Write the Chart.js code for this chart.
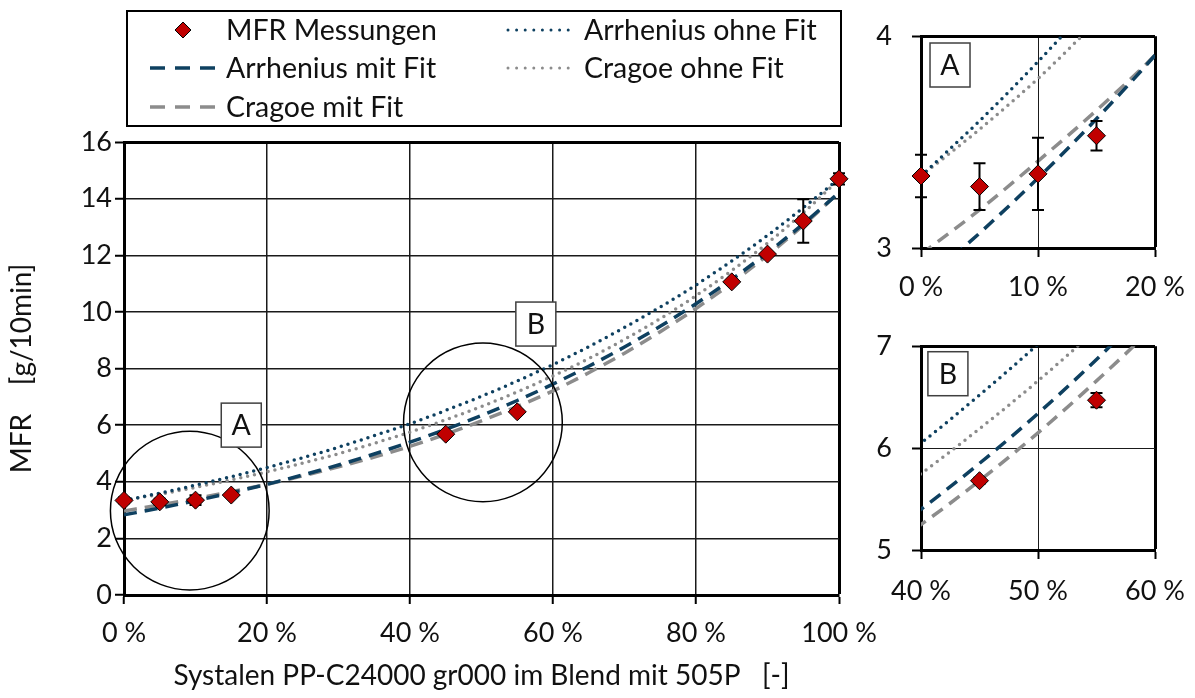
<!DOCTYPE html>
<html>
<head>
<meta charset="utf-8">
<script src="https://cdn.jsdelivr.net/npm/chart.js@4.4.1/dist/chart.umd.min.js"></script>
<style>
html, body { margin: 0; padding: 0; background: #fff; }
body { width: 1195px; height: 698px; position: relative; overflow: hidden; }
canvas { position: absolute; }
#main { left: 0; top: 0; }
#insetA { left: 860px; top: 0; }
#insetB { left: 860px; top: 310px; }
</style>
</head>
<body>
<canvas id="main" width="900" height="698"></canvas>
<canvas id="insetA" width="335" height="310"></canvas>
<canvas id="insetB" width="335" height="310"></canvas>
<script>
// --- Data ---
const blendPct = [0, 5, 10, 15, 45, 55, 85, 90, 95, 100];
const mfrMeasured = [3.34, 3.29, 3.35, 3.53, 5.68, 6.47, 11.06, 12.04, 13.21, 14.70];
const mfrError = [0.10, 0.11, 0.17, 0.07, 0.03, 0.07, 0.05, 0.05, 0.77, 0.20];

const modelPct = [0, 5, 10, 15, 20, 25, 30, 35, 40, 45, 50, 55, 60, 65, 70, 75, 80, 85, 90, 95, 100];
const arrheniusOhne = [3.34, 3.60, 3.88, 4.18, 4.50, 4.85, 5.22, 5.63, 6.05, 6.52, 7.02, 7.56, 8.14, 8.77, 9.45, 10.17, 10.95, 11.80, 12.70, 13.68, 14.70];
const arrheniusMit = [2.83, 3.07, 3.33, 3.61, 3.91, 4.24, 4.59, 4.98, 5.40, 5.85, 6.34, 6.87, 7.45, 8.08, 8.76, 9.49, 10.29, 11.15, 12.09, 13.11, 14.21];
const cragoeOhne = [3.34, 3.56, 3.80, 4.07, 4.35, 4.66, 4.99, 5.36, 5.75, 6.19, 6.66, 7.17, 7.74, 8.35, 9.03, 9.76, 10.57, 11.46, 12.43, 13.50, 14.67];
const cragoeMit = [2.97, 3.18, 3.41, 3.65, 3.91, 4.21, 4.53, 4.87, 5.25, 5.68, 6.15, 6.66, 7.21, 7.85, 8.54, 9.30, 10.12, 11.02, 12.00, 13.06, 14.22];

const seriesLabels = ['MFR Messungen', 'Arrhenius ohne Fit', 'Arrhenius mit Fit', 'Cragoe ohne Fit', 'Cragoe mit Fit'];
const xTitle = 'Systalen PP-C24000 gr000 im Blend mit 505P   [-]';
const yTitle = 'MFR    [g/10min]';

// zoom regions marked in the main chart (centre in data units, radius in % of x)
const zoomCircles = [{ x: 9.2, y: 2.98, r: 11.1 }, { x: 50.2, y: 6.1, r: 11.1 }];
const mainTags = [{ text: 'A', x: 16.4, y: 6.0 }, { text: 'B', x: 57.6, y: 9.57 }];

// --- Styles ---
const NAVY = '#0e4060';
const GREY = '#8c8c8c';
const RED = '#c00000';
const TEXT_FONT = '28.5px Lato';
Chart.defaults.font.family = 'Lato';
Chart.defaults.font.size = 27;
Chart.defaults.color = '#111';

const pts = (xs, ys) => xs.map((x, i) => ({ x, y: ys[i] }));

function buildDatasets(lw) {
    const line = (label, data, color, dash) => ({
        label, data: pts(modelPct, data), showLine: true, pointRadius: 0,
        borderColor: color, borderWidth: lw, borderDash: dash,
        borderCapStyle: dash[0] === 0 ? 'round' : 'butt',
        cubicInterpolationMode: 'monotone'
    });
    return [
        { label: seriesLabels[0], data: pts(blendPct, mfrMeasured), pointStyle: 'rectRot', pointRadius: 9,
          backgroundColor: RED, borderColor: '#000', borderWidth: 1, showLine: false, clip: 14 },
        line(seriesLabels[1], arrheniusOhne, NAVY, [0, 7]),
        line(seriesLabels[2], arrheniusMit, NAVY, [13, 8]),
        line(seriesLabels[3], cragoeOhne, GREY, [0, 7]),
        line(seriesLabels[4], cragoeMit, GREY, [13, 8])
    ];
}

// error bars drawn just before the marker series, so the diamonds sit on top
const errorBars = {
    id: 'errorBars',
    beforeDatasetDraw(chart, args) {
        if (args.index !== 0) return;
        const { ctx, chartArea: a, scales: { x, y } } = chart;
        ctx.save();
        ctx.beginPath();
        ctx.rect(a.left - 14, a.top - 14, a.right - a.left + 28, a.bottom - a.top + 28);
        ctx.clip();
        ctx.strokeStyle = '#000';
        ctx.lineWidth = 2;
        mfrMeasured.forEach((v, i) => {
            const px = x.getPixelForValue(blendPct[i]);
            const hi = y.getPixelForValue(v + mfrError[i]);
            const lo = y.getPixelForValue(v - mfrError[i]);
            ctx.beginPath();
            ctx.moveTo(px, hi); ctx.lineTo(px, lo);
            ctx.moveTo(px - 6, hi); ctx.lineTo(px + 6, hi);
            ctx.moveTo(px - 6, lo); ctx.lineTo(px + 6, lo);
            ctx.stroke();
        });
        ctx.restore();
    }
};

function drawTag(ctx, cx, cy, text) {
    ctx.fillStyle = '#fff';
    ctx.fillRect(cx - 20, cy - 22, 40, 44);
    ctx.strokeStyle = '#404040';
    ctx.lineWidth = 1.5;
    ctx.strokeRect(cx - 20, cy - 22, 40, 44);
    ctx.fillStyle = '#111';
    ctx.font = TEXT_FONT;
    ctx.textAlign = 'center';
    ctx.textBaseline = 'middle';
    ctx.fillText(text, cx, cy + 1);
}

function annotations(circles, tags) {
    return {
        id: 'annotations',
        afterDatasetsDraw(chart) {
            const { ctx, scales: { x, y } } = chart;
            ctx.save();
            circles.forEach(c => {
                const cx = x.getPixelForValue(c.x), cy = y.getPixelForValue(c.y);
                const r = x.getPixelForValue(c.x + c.r) - cx;
                ctx.beginPath();
                ctx.arc(cx, cy, r, 0, Math.PI * 2);
                ctx.strokeStyle = '#000';
                ctx.lineWidth = 1.5;
                ctx.stroke();
            });
            tags.forEach(t => drawTag(ctx, x.getPixelForValue(t.x), y.getPixelForValue(t.y), t.text));
            ctx.restore();
        }
    };
}

// two-column boxed legend above the main plot
const boxLegend = {
    id: 'boxLegend',
    afterDraw(chart) {
        const ctx = chart.ctx;
        ctx.save();
        ctx.strokeStyle = '#000';
        ctx.lineWidth = 2;
        ctx.strokeRect(127, 11, 714, 115);
        const colX = [148, 506], rowY = [30, 68, 107];
        chart.data.datasets.forEach((ds, i) => {
            const sx = colX[i % 2], sy = rowY[Math.floor(i / 2)];
            if (ds.showLine) {
                ctx.beginPath();
                ctx.setLineDash(ds.borderDash[0] === 0 ? [0, 8.6] : [15, 10]);
                ctx.lineCap = ds.borderCapStyle;
                ctx.lineWidth = ds.borderDash[0] === 0 ? 3 : 3.5;
                ctx.strokeStyle = ds.borderColor;
                ctx.moveTo(sx + 2, sy); ctx.lineTo(sx + 70, sy);
                ctx.stroke();
                ctx.setLineDash([]);
            } else {
                ctx.beginPath();
                ctx.moveTo(sx + 35 - 8, sy); ctx.lineTo(sx + 35, sy - 8);
                ctx.lineTo(sx + 35 + 8, sy); ctx.lineTo(sx + 35, sy + 8);
                ctx.closePath();
                ctx.fillStyle = ds.backgroundColor;
                ctx.fill();
                ctx.lineWidth = 1;
                ctx.strokeStyle = '#000';
                ctx.stroke();
            }
            ctx.fillStyle = '#111';
            ctx.font = TEXT_FONT;
            ctx.textAlign = 'left';
            ctx.textBaseline = 'middle';
            ctx.fillText(ds.label, sx + 78, sy + 1);
        });
        ctx.restore();
    }
};

function axisGrid(maxVal, inner, outer) {
    return {
        color: c => (c.tick && c.tick.value === maxVal) ? '#000' : '#1a1a1a',
        lineWidth: c => (c.tick && c.tick.value === maxVal) ? outer : inner,
        tickLength: 9, tickColor: '#000', tickWidth: 2
    };
}

function makeChart(id, o) {
    return new Chart(document.getElementById(id), {
        type: 'scatter',
        data: { datasets: buildDatasets(o.lw) },
        options: {
            responsive: false, animation: false, devicePixelRatio: 1,
            layout: { padding: { top: o.top, right: o.right, left: 0, bottom: 0 } },
            plugins: { legend: { display: false }, tooltip: { enabled: false } },
            scales: {
                x: {
                    type: 'linear', min: o.xMin, max: o.xMax,
                    ticks: { stepSize: o.xStep, padding: o.xPad, maxRotation: 0, autoSkip: false, callback: v => v + ' %' },
                    grid: axisGrid(o.xMax, o.inner, 3),
                    border: { display: true, color: '#000', width: 3 },
                    title: { display: !!o.xTitle, text: o.xTitle, font: { size: 28 }, padding: { top: 5, bottom: 5 } },
                    afterFit: s => { s.height = o.xH; s.paddingLeft = 0; s.paddingRight = 0; }
                },
                y: {
                    type: 'linear', min: o.yMin, max: o.yMax,
                    ticks: { stepSize: o.yStep, padding: o.yPad },
                    grid: axisGrid(o.yMax, o.inner, 3),
                    border: { display: true, color: '#000', width: 3 },
                    title: { display: !!o.yTitle, text: o.yTitle, font: { size: 28 }, padding: { top: 5, bottom: 5 } },
                    afterFit: s => { s.width = o.yW; }
                }
            }
        },
        plugins: [errorBars, annotations(o.circles, o.tags)].concat(o.extra || [])
    });
}

makeChart('main', {
    lw: 3.5, top: 142, right: 61, xH: 103, yW: 124, inner: 1.5,
    xMin: 0, xMax: 100, xStep: 20, xPad: 13, yMin: 0, yMax: 16, yStep: 2, yPad: 3,
    xTitle, yTitle, circles: zoomCircles, tags: mainTags, extra: [boxLegend]
});

makeChart('insetA', {
    lw: 3.5, top: 32, right: 40, xH: 62, yW: 61, inner: 1,
    xMin: 0, xMax: 20, xStep: 10, xPad: 14, yMin: 3, yMax: 4, yStep: 1, yPad: 20,
    circles: [], tags: [{ text: 'A', x: 2.48, y: 3.864 }]
});

makeChart('insetB', {
    lw: 3.5, top: 25, right: 40, xH: 70, yW: 61, inner: 1,
    xMin: 40, xMax: 60, xStep: 10, xPad: 16, yMin: 5, yMax: 7, yStep: 1, yPad: 20,
    circles: [], tags: [{ text: 'B', x: 42.3, y: 6.73 }]
});
</script>
</body>
</html>
